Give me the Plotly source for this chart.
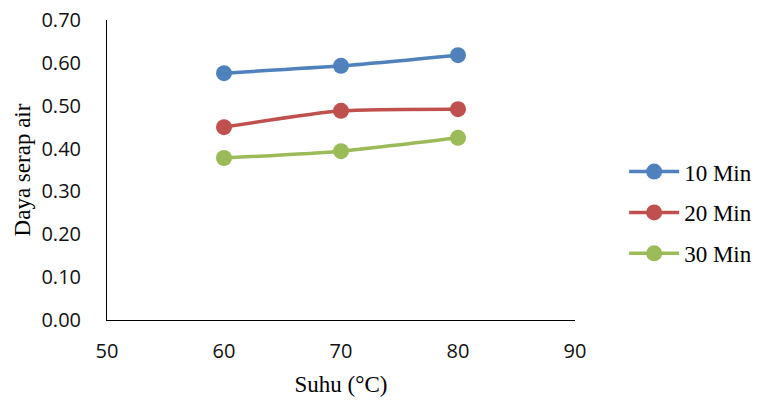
import plotly.graph_objects as go

# Suhu (°C) and water absorption per soaking time
suhu = [60, 70, 80]
daya_10 = [0.576, 0.593, 0.618]
daya_20 = [0.450, 0.488, 0.492]
daya_30 = [0.378, 0.394, 0.425]

series_names = ["10 Min", "20 Min", "30 Min"]
series_values = [daya_10, daya_20, daya_30]
series_colors = ["#4F81BD", "#C0504D", "#9BBB59"]

x_ticks = [50, 60, 70, 80, 90]
y_ticks = [0.0, 0.1, 0.2, 0.3, 0.4, 0.5, 0.6, 0.7]

serif = "Liberation Serif, Times New Roman, serif"

fig = go.Figure()
for name, vals, color in zip(series_names, series_values, series_colors):
    fig.add_trace(go.Scatter(
        x=suhu, y=vals, name=name, mode="lines+markers",
        legendgroup=name,
        line=dict(color=color, width=3.5, shape="spline", smoothing=0.6),
        marker=dict(color=color, size=16),
    ))

fig.update_layout(
    width=758, height=401,
    margin=dict(l=107, r=183, t=20, b=81, autoexpand=False),
    plot_bgcolor="white", paper_bgcolor="white",
    font=dict(family="Open Sans, Liberation Sans, sans-serif", size=20, color="#111"),
    legend=dict(
        x=1.105, y=0.358, xanchor="left", yanchor="middle",
        font=dict(family=serif, size=23, color="#000"),
        tracegroupgap=8, itemwidth=50,
    ),
)
fig.update_xaxes(
    range=[50, 90], tickvals=x_ticks, ticktext=[str(v) for v in x_ticks],
    showgrid=False, zeroline=False, showline=True, linecolor="#000", linewidth=1,
    ticks="", ticklabelstandoff=13, automargin=False,
    title=dict(text="Suhu (°C)", font=dict(family=serif, size=23, color="#000"), standoff=12),
)
fig.update_yaxes(
    range=[0, 0.7], tickvals=y_ticks, ticktext=[f"{v:.2f}" for v in y_ticks],
    showgrid=False, zeroline=False, showline=True, linecolor="#000", linewidth=1,
    ticks="", ticklabelstandoff=21, automargin=False,
    title=dict(text="Daya serap air", font=dict(family=serif, size=23, color="#000"), standoff=4),
)

fig.write_html("out.html")
